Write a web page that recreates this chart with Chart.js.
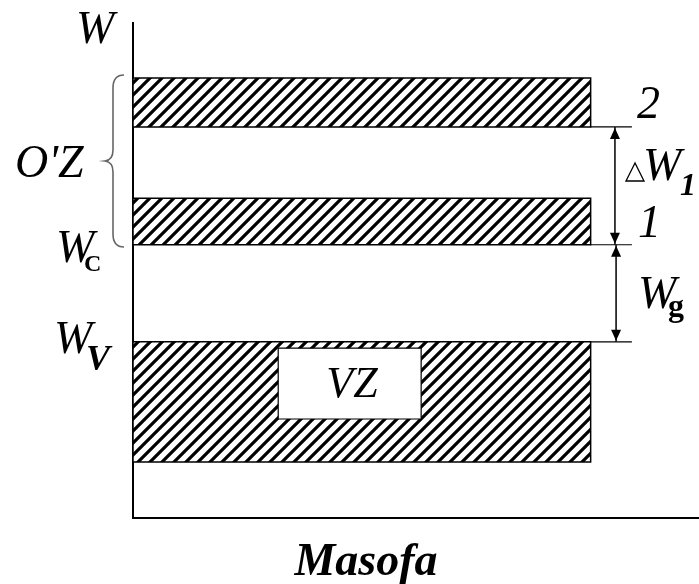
<!DOCTYPE html>
<html>
<head>
<meta charset="utf-8">
<script src="https://cdn.jsdelivr.net/npm/chart.js@4/dist/chart.umd.min.js"></script>
<style>
  body { margin: 0; background: #fff; }
  canvas { display: block; }
</style>
</head>
<body>
<canvas id="bandChart" width="699" height="584"></canvas>
<script>
// Energy bands (arbitrary units on a 0..100 scale)
var bandNames = ["2", "1", "VZ"];
var bandTop = [88.9, 64.6, 35.6];
var bandBottom = [79.0, 55.2, 11.3];
var bandLeft = 0;
var bandRight = 81;

// Valence-zone hole (white box inside the lower band)
var vzX = [25.7, 51.0];
var vzY = [20.0, 34.3];

// Level marks to the right of the bands
var levelY = [79.0, 55.2, 35.6];
var levelEnd = 88.3;

// Gap arrows: [x, from, to]
var arrowX = [85.3, 85.5];
var arrowFrom = [79.0, 55.2];
var arrowTo = [55.2, 35.6];

// Hatch pattern for filled bands
function makeHatch() {
    var c = document.createElement("canvas");
    c.width = 12;
    c.height = 12;
    var g = c.getContext("2d");
    g.fillStyle = "#fff";
    g.fillRect(0, 0, 12, 12);
    g.strokeStyle = "#000";
    g.lineWidth = 3.2;
    g.beginPath();
    g.moveTo(-3, 15); g.lineTo(15, -3);
    g.moveTo(-9, 9); g.lineTo(9, -9);
    g.moveTo(3, 21); g.lineTo(21, 3);
    g.stroke();
    return g.createPattern(c, "repeat");
}

var hatch = makeHatch();
var datasets = [];

// one closed polygon per band
for (var i = 0; i < bandNames.length; i++) {
    datasets.push({
        label: bandNames[i],
        data: [
            { x: bandLeft, y: bandBottom[i] },
            { x: bandLeft, y: bandTop[i] },
            { x: bandRight, y: bandTop[i] },
            { x: bandRight, y: bandBottom[i] },
            { x: bandLeft, y: bandBottom[i] }
        ],
        showLine: true,
        fill: "shape",
        backgroundColor: hatch,
        borderColor: "#000",
        borderWidth: 1.5,
        pointRadius: 0,
        order: 5
    });
}

// lower order is drawn on top
datasets.push({
    label: "VZ box",
    data: [
        { x: vzX[0], y: vzY[0] },
        { x: vzX[0], y: vzY[1] },
        { x: vzX[1], y: vzY[1] },
        { x: vzX[1], y: vzY[0] },
        { x: vzX[0], y: vzY[0] }
    ],
    showLine: true,
    fill: "shape",
    backgroundColor: "#fff",
    borderColor: "#000",
    borderWidth: 1.2,
    pointRadius: 0,
    order: 1
});

levelY.forEach(function (v) {
    datasets.push({
        label: "level",
        data: [{ x: bandRight, y: v }, { x: levelEnd, y: v }],
        showLine: true,
        fill: false,
        borderColor: "#000",
        borderWidth: 1.2,
        pointRadius: 0,
        order: 1
    });
});

arrowX.forEach(function (x, k) {
    datasets.push({
        label: "arrow",
        data: [{ x: x, y: arrowFrom[k] }, { x: x, y: arrowTo[k] }],
        showLine: true,
        fill: false,
        borderColor: "#000",
        borderWidth: 1.5,
        pointRadius: 0,
        order: 1
    });
});

// Arrow heads, brace and the labels
var annotate = {
    id: "annotate",
    afterDatasetsDraw: function (chart) {
        var ctx = chart.ctx;
        var xs = chart.scales.x, ys = chart.scales.y;
        ctx.save();

        // arrow heads
        ctx.fillStyle = "#000";
        arrowX.forEach(function (x, k) {
            var px = xs.getPixelForValue(x);
            var top = ys.getPixelForValue(arrowFrom[k]);
            var bot = ys.getPixelForValue(arrowTo[k]);
            ctx.beginPath();
            ctx.moveTo(px, top + 1);
            ctx.lineTo(px - 5, top + 12);
            ctx.lineTo(px + 5, top + 12);
            ctx.closePath();
            ctx.fill();
            ctx.beginPath();
            ctx.moveTo(px, bot - 1);
            ctx.lineTo(px - 5, bot - 12);
            ctx.lineTo(px + 5, bot - 12);
            ctx.closePath();
            ctx.fill();
        });

        // curly brace for O'Z
        ctx.strokeStyle = "#666";
        ctx.lineWidth = 1.6;
        ctx.beginPath();
        ctx.moveTo(124, 75);
        ctx.quadraticCurveTo(113, 75, 113, 88);
        ctx.lineTo(113, 150);
        ctx.quadraticCurveTo(113, 160, 105, 161);
        ctx.quadraticCurveTo(113, 162, 113, 172);
        ctx.lineTo(113, 234);
        ctx.quadraticCurveTo(113, 247, 124, 247);
        ctx.stroke();

        // small delta triangle in front of W1
        ctx.strokeStyle = "#000";
        ctx.lineWidth = 1.3;
        ctx.beginPath();
        ctx.moveTo(635, 163);
        ctx.lineTo(626, 181);
        ctx.lineTo(644, 181);
        ctx.closePath();
        ctx.stroke();

        ctx.fillStyle = "#000";
        ctx.textBaseline = "alphabetic";
        ctx.textAlign = "left";
        var it = "italic 46px 'Liberation Serif'";
        function txt(s, x, y, f) { ctx.font = f; ctx.fillText(s, x, y); }

        txt("W", 76, 43, it);
        txt("O'Z", 15, 177, it);
        txt("W", 56, 262, it);
        txt("C", 84, 271, "bold 24px 'Liberation Serif'");
        txt("W", 54, 353, it);
        txt("V", 86, 370, "bold italic 36px 'Liberation Serif'");

        txt("2", 637, 118, it);
        txt("W", 643, 180, it);
        txt("1", 680, 195, "bold italic 32px 'Liberation Serif'");
        txt("1", 638, 237, it);
        txt("W", 638, 308, it);
        txt("g", 668, 316, "bold 32px 'Liberation Serif'");

        ctx.textAlign = "center";
        txt("VZ", 352, 397, "italic 44px 'Liberation Serif'");
        txt("Masofa", 366, 575, "bold italic 46px 'Liberation Serif'");
        ctx.restore();
    }
};

new Chart(document.getElementById("bandChart"), {
    type: "scatter",
    data: { datasets: datasets },
    options: {
        responsive: false,
        animation: false,
        devicePixelRatio: 1,
        layout: { padding: { left: 133, top: 23, right: 1, bottom: 66 } },
        plugins: { legend: { display: false }, tooltip: { enabled: false } },
        scales: {
            x: {
                type: "linear", min: 0, max: 100,
                ticks: { display: false },
                grid: { display: false, drawTicks: false },
                border: { display: true, color: "#000", width: 2 }
            },
            y: {
                type: "linear", min: 0, max: 100,
                ticks: { display: false },
                grid: { display: false, drawTicks: false },
                border: { display: true, color: "#000", width: 2 }
            }
        }
    },
    plugins: [annotate]
});
</script>
</body>
</html>
